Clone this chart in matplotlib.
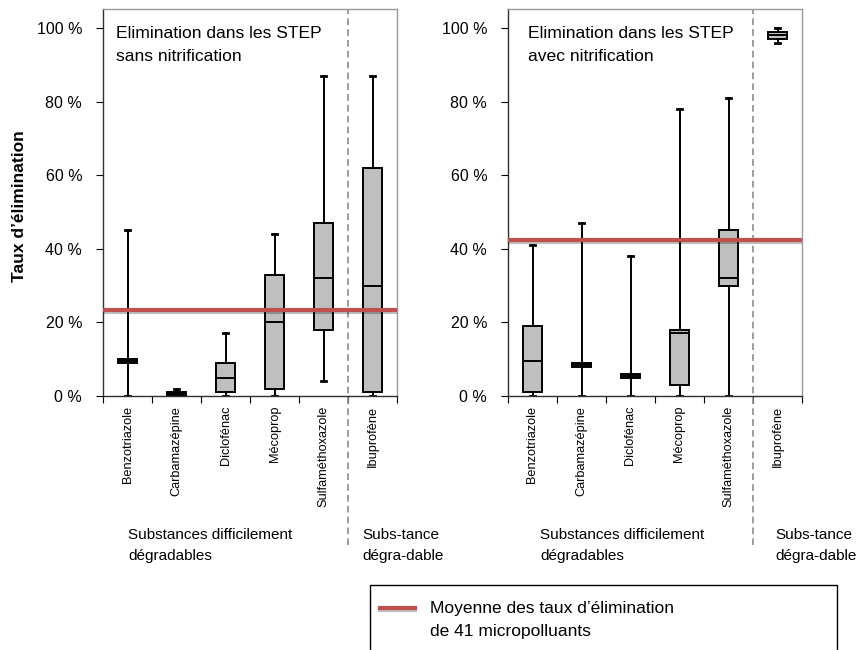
import matplotlib
matplotlib.use('Agg')
import matplotlib.pyplot as plt
import matplotlib.patheffects as pe
from matplotlib.patches import Rectangle
from matplotlib.lines import Line2D
import numpy as np

plt.rcParams['font.family'] = ['Liberation Sans', 'DejaVu Sans']

substances = ['Benzotriazole', 'Carbamazépine', 'Diclofénac', 'Mécoprop',
              'Sulfaméthoxazole', 'Ibuprofène']

# sans nitrification (%)
sans_low = [0, 0, 0, 0, 4, 0]
sans_q1 = [9, 0, 1, 2, 18, 1]
sans_med = [9.5, 0.5, 5, 20, 32, 30]
sans_q3 = [10, 1, 9, 33, 47, 62]
sans_high = [45, 2, 17, 44, 87, 87]
sans_mean41 = 23.3

# avec nitrification (%)
avec_low = [0, 0, 0, 0, 0, 96]
avec_q1 = [1, 8, 5, 3, 30, 97]
avec_med = [9.5, 8.5, 5.5, 17, 32, 98]
avec_q3 = [19, 9, 6, 18, 45, 99]
avec_high = [41, 47, 38, 78, 81, 100]
avec_mean41 = 42.4

yticks = [0, 20, 40, 60, 80, 100]
ytick_labels = ['0 %', '20 %', '40 %', '60 %', '80 %', '100 %']

titles = ['Elimination dans les STEP\nsans nitrification',
          'Elimination dans les STEP\navec nitrification']
group1 = 'Substances difficilement\ndégradables'
group2 = 'Subs-tance\ndégra-dable'
legend_text = 'Moyenne des taux d’élimination\nde 41 micropolluants'

W, H = 858, 650
fig = plt.figure(figsize=(W / 100, H / 100), dpi=100)

red = '#c0504d'


def draw_panel(left_px, low, q1, med, q3, high, mean41, title, title_x, g1_x, g2_x):
    ax = fig.add_axes([left_px / W, 1 - 396 / H, 294 / W, 387 / H])
    stats = []
    for i in range(len(substances)):
        stats.append(dict(whislo=low[i], q1=q1[i], med=med[i], q3=q3[i],
                          whishi=high[i], label=substances[i]))
    pos = np.arange(len(substances)) + 0.5
    ax.bxp(stats, positions=pos, widths=0.4, showfliers=False, patch_artist=True,
           boxprops=dict(facecolor='#bfbfbf', edgecolor='black', linewidth=1.4),
           medianprops=dict(color='black', linewidth=1.4),
           whiskerprops=dict(color='black', linewidth=1.4),
           capprops=dict(color='black', linewidth=2.0), capwidths=0.1)
    ax.axhline(mean41, color=red, lw=3, zorder=5,
               path_effects=[pe.SimpleLineShadow(offset=(0, -1.5), alpha=0.25),
                             pe.Normal()])
    ax.set_xlim(0, 6)
    ax.set_ylim(0, 105.2)
    ax.set_yticks(yticks)
    ax.set_yticklabels(ytick_labels, fontsize=11.5)
    ax.set_xticks(np.arange(0, 7))
    ax.set_xticklabels([])
    ax.set_xticks(pos, minor=True)
    ax.set_xticklabels(substances, minor=True, rotation=90, fontsize=9.2, va='top')
    ax.tick_params(axis='x', which='minor', length=0, pad=7)
    ax.tick_params(axis='x', which='major', length=5, direction='out', color='black')
    ax.tick_params(axis='y', length=5, direction='out', pad=10, color='black')
    for s in ['left', 'bottom']:
        ax.spines[s].set_color('#303030')
        ax.spines[s].set_linewidth(1.0)
    for s in ['top', 'right']:
        ax.spines[s].set_color('#9a9a9a')
        ax.spines[s].set_linewidth(1.0)
    ax.axvline(5, ymin=-0.385, ymax=1, clip_on=False, color='#8c8c8c',
               lw=1.2, ls=(0, (4, 2.5)))
    ax.text(title_x, 0.955, title, transform=ax.transAxes, fontsize=12.6,
            va='top', ha='left', linespacing=1.65)
    ax.text(g1_x, -0.34, group1, transform=ax.transAxes, fontsize=11,
            va='top', ha='left', linespacing=1.7)
    ax.text(g2_x, -0.34, group2, transform=ax.get_xaxis_transform(), fontsize=11,
            va='top', ha='left', linespacing=1.7)
    return ax


ax1 = draw_panel(103, sans_low, sans_q1, sans_med, sans_q3, sans_high,
                 sans_mean41, titles[0], 0.044, 0.085, 5.3)
ax2 = draw_panel(508, avec_low, avec_q1, avec_med, avec_q3, avec_high,
                 avec_mean41, titles[1], 0.068, 0.109, 5.45)

ax1.set_ylabel("Taux d’élimination", fontsize=12.5, fontweight='bold')
ax1.yaxis.set_label_coords(-0.258, 0.49)

# legend box (open at the bottom edge of the picture)
fig.add_artist(Rectangle((370 / W, -0.01), (837 - 370) / W, (H - 585) / H + 0.01,
                         transform=fig.transFigure, fill=False,
                         edgecolor='black', lw=1.0))
fig.add_artist(Line2D([380 / W, 415 / W], [1 - 608 / H, 1 - 608 / H],
                      transform=fig.transFigure, color=red, lw=3,
                      path_effects=[pe.SimpleLineShadow(offset=(0, -1.5), alpha=0.25),
                                    pe.Normal()]))
fig.text(430 / W, 1 - 620 / H, legend_text, fontsize=12.5, va='center', ha='left',
         linespacing=1.65)

fig.savefig('out.png', dpi=100)
